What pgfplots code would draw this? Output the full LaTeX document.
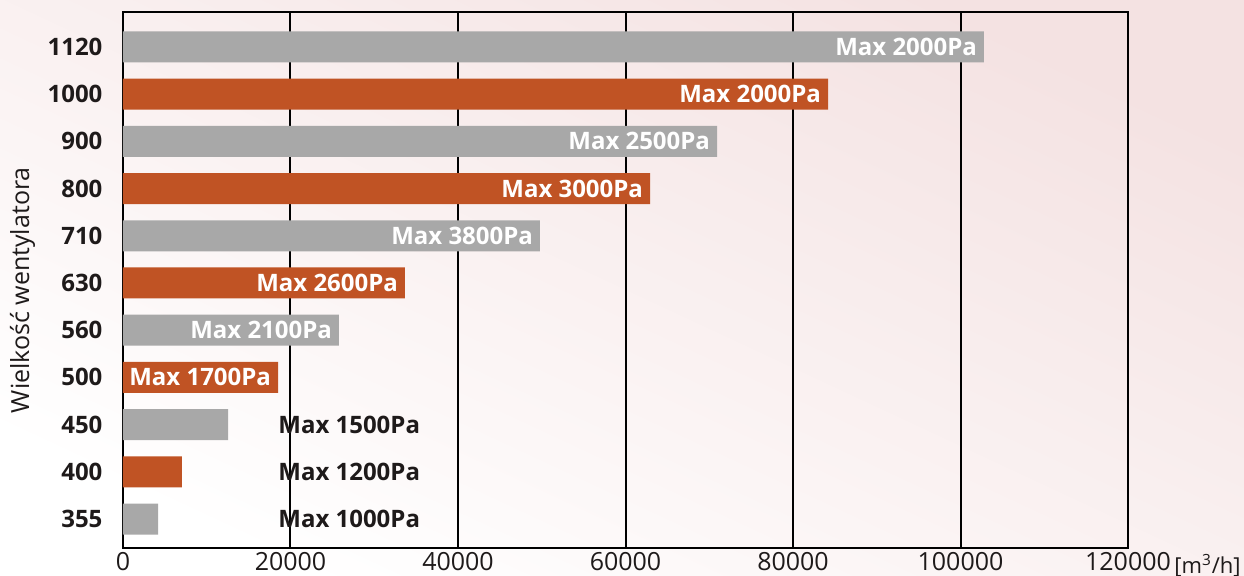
\documentclass[border=0pt]{standalone}
\usepackage{pgfplots}
\pgfplotsset{compat=1.18}
\usepackage{fontspec}
\setmainfont{Open Sans}
\definecolor{bargray}{RGB}{168,168,168}
\definecolor{barorange}{RGB}{192,83,36}
\definecolor{txt}{RGB}{30,26,26}
\definecolor{pinkbg}{RGB}{244,226,226}
\pgfplotstableread{
y x
0 4180
2 12540
4 25790
6 49790
8 70930
10 102800
}\graydata
\pgfplotstableread{
y x
1 7040
3 18510
5 33670
7 62930
9 84180
}\orangedata
\begin{document}
\begin{tikzpicture}
\shade[top color=pinkbg, bottom color=white, shading angle=-25] (-61.5pt,-14pt) rectangle (560.5pt,274pt);
\begin{axis}[
  name=main,
  scale only axis, width=502.5pt, height=268pt,
  xbar, bar width=15.5pt, bar shift=0pt,
  xmin=0, xmax=120000, ymin=-0.614, ymax=10.74,
  scaled x ticks=false,
  ytick={0,...,10},
  yticklabels={355,400,450,500,560,630,710,800,900,1000,1120},
  xtick={0,20000,40000,60000,80000,100000,120000},
  xticklabels={0,20000,40000,60000,80000,100000,{120000\hspace{8pt}}},
  tick style={draw=none},
  xmajorgrids, major grid style={black, line width=1pt},
  axis line style={line width=1pt, black},
  xticklabel style={font=\fontsize{12.5}{14}\selectfont, text=txt, inner sep=0pt, yshift=-2pt},
  yticklabel style={font=\fontsize{12}{14}\selectfont\bfseries, text=txt, xshift=-2.5pt},
  ylabel={Wielkość wentylatora},
  every axis y label/.style={at={(axis description cs:-0.1,0.481)}, rotate=90, anchor=center, font=\fontsize{12.5}{14}\selectfont, text=txt},
]
\addplot[fill=bargray, draw=none] table[x=x, y=y] {\graydata};
\addplot[fill=barorange, draw=none] table[x=x, y=y] {\orangedata};
\begin{scope}[every node/.style={font=\fontsize{12}{14}\selectfont\bfseries}]
\node[anchor=east, text=white] at (axis cs:102800,10) {Max 2000Pa};
\node[anchor=east, text=white] at (axis cs:84180,9) {Max 2000Pa};
\node[anchor=east, text=white] at (axis cs:70930,8) {Max 2500Pa};
\node[anchor=east, text=white] at (axis cs:62930,7) {Max 3000Pa};
\node[anchor=east, text=white] at (axis cs:49790,6) {Max 3800Pa};
\node[anchor=east, text=white] at (axis cs:33670,5) {Max 2600Pa};
\node[anchor=east, text=white] at (axis cs:25790,4) {Max 2100Pa};
\node[anchor=east, text=white] at (axis cs:18510,3) {Max 1700Pa};
\node[anchor=west, inner sep=0pt, text=txt] at (axis cs:18510,2) {Max 1500Pa};
\node[anchor=west, inner sep=0pt, text=txt] at (axis cs:18510,1) {Max 1200Pa};
\node[anchor=west, inner sep=0pt, text=txt] at (axis cs:18510,0) {Max 1000Pa};
\end{scope}
\end{axis}
\node[anchor=base west, inner sep=0pt, text=txt, font=\fontsize{11}{13}\selectfont]
  at ([xshift=23pt, yshift=-12.7pt]main.south east) {[m\textsuperscript{3}/h]};
\pgfresetboundingbox
\path[use as bounding box] (-61.5pt,-14pt) rectangle (560.5pt,274pt);
\end{tikzpicture}
\end{document}
